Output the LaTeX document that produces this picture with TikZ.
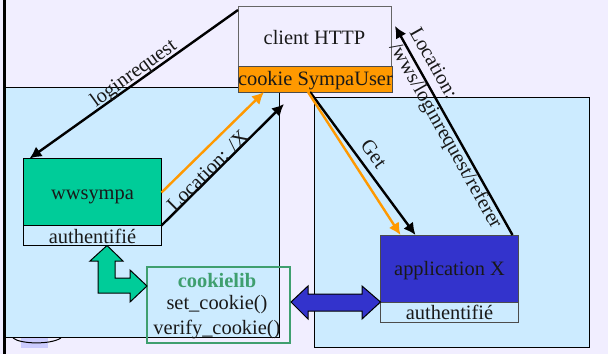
\documentclass[tikz,border=0pt]{standalone}
\usepackage{fontspec}
\setmainfont{Liberation Serif}
\usetikzlibrary{arrows.meta,calc}
\definecolor{bgc}{HTML}{F1EEFF}
\definecolor{panelc}{HTML}{CCEBFF}
\definecolor{orangec}{HTML}{FF9900}
\definecolor{greenc}{HTML}{00CC99}
\definecolor{bluec}{HTML}{3333CC}
\definecolor{libc}{HTML}{3F9F6F}
\definecolor{decoc}{HTML}{CCCCFF}
\tikzset{
  boxn/.style={draw=#1,line width=1bp,anchor=north west,inner sep=0pt,outer sep=0pt,align=center},
  panel/.style={boxn=black,fill=panelc},
  big/.style={font=\fontsize{20.5}{22}\selectfont,text=black!90},
  conn/.style={line width=2.4bp,-{Latex[length=12bp,width=12bp]}},
  lab/.style={font=\fontsize{20.5}{22}\selectfont,text=black!90,inner sep=0pt},
  bigarrow/.style={draw=black,line width=1bp,line join=miter}
}
\newcommand{\dn}[2]{\raisebox{-#1bp}[\height][\depth]{#2}}
\begin{document}
\begin{tikzpicture}[x=1bp,y=-1bp]
\useasboundingbox (0,0) rectangle (608,354);
\fill[bgc] (0,0) rectangle (608,354);
\fill[black] (3,0) rectangle (6,354);
% decoration at the bottom left
\fill[decoc] (21,337) rectangle (48,348);
\draw[black,line width=1bp] (13,338) .. controls (20,344) and (50,345) .. (61,338);
% panels
\node[panel,minimum width=274bp,minimum height=250bp] (lpanel) at (5,87) {};
\node[panel,minimum width=275bp,minimum height=250bp] (rpanel) at (314,97) {};
% client
\node[boxn=black!60,fill=bgc,minimum width=153bp,minimum height=60bp,big] (client) at (238,6) {\dn{2}{client HTTP}};
\node[boxn=black!70,fill=orangec,minimum width=153bp,minimum height=26bp,big] (cookie) at (238,66) {\dn{2}{cookie SympaUser}};
% wwsympa
\node[boxn=black,fill=greenc,minimum width=138bp,minimum height=67bp,big] (www) at (23.5,158.5) {\dn{4.5}{wwsympa}};
\node[boxn=black,minimum width=138bp,minimum height=20bp,big] (wauth) at (23.5,225.5) {\dn{1}{authentifié}};
% application
\node[boxn=black!70,fill=bluec,minimum width=138bp,minimum height=67bp,big] (app) at (380.5,235) {\dn{2}{application X}};
\node[boxn=black!70,minimum width=138bp,minimum height=20bp,big] (aauth) at (380.5,302) {authentifié};
% cookielib
\node[draw=libc,line width=2bp,anchor=north west,inner sep=0pt,minimum width=143bp,minimum height=76bp] (lib) at (146,266) {};
\node[font=\fontsize{20.5}{22}\selectfont\bfseries,text=libc,inner sep=0pt] (libt) at (217,281) {cookielib};
\node[big,inner sep=0pt] (libs) at (217,305) {set\_cookie()};
\node[big,inner sep=0pt] (libv) at (217,330) {verify\_cookie()};
% connectors
\draw[conn] ([yshift=-4bp]client.north west) -- ([xshift=6bp]www.north west);
\draw[conn,orangec] ([yshift=-34bp]www.north east) -- ([xshift=26bp]cookie.south west);
\draw[conn] (www.south east) -- ($(lpanel.north east)+(5,17)$);
\draw[conn] ([xshift=72bp]cookie.south west) -- ([xshift=35bp]app.north west);
\draw[conn,orangec] ([xshift=70bp]cookie.south west) -- ([xshift=20bp]app.north west);
\draw[conn] ([xshift=-6bp]app.north east) -- ($(client.north east)+(4,20)$);
% block arrows
\path[bigarrow,fill=greenc] ($(wauth.south)+(14.5,0)$) -- (123,261) -- (115,261) -- (115,278) -- (130,278) -- (130,270) -- ($(lib.north west)+(1,20)$) -- (130,302) -- (130,293) -- (98,293) -- (98,261) -- (90,261) -- cycle;
\path[bigarrow,fill=bluec] ($(lib.north east)+(0,36)$) -- (308,286) -- (308,294) -- (362,294) -- (362,286) -- (app.south west) -- (362,319) -- (362,311) -- (308,311) -- (308,319) -- cycle;
% labels
\node[lab,rotate=36] (l1) at (134,74) {loginrequest};
\node[lab,rotate=45] (l2) at (207.5,170.5) {Location: /X};
\node[lab,rotate=-54] (l3) at (374,154) {Get};
\node[lab,rotate=-60.6] (l4) at (434,63) {Location:};
\node[lab,rotate=-60.6] (l5) at (445,136) {/wws/loginrequest/referer};
\end{tikzpicture}
\end{document}
